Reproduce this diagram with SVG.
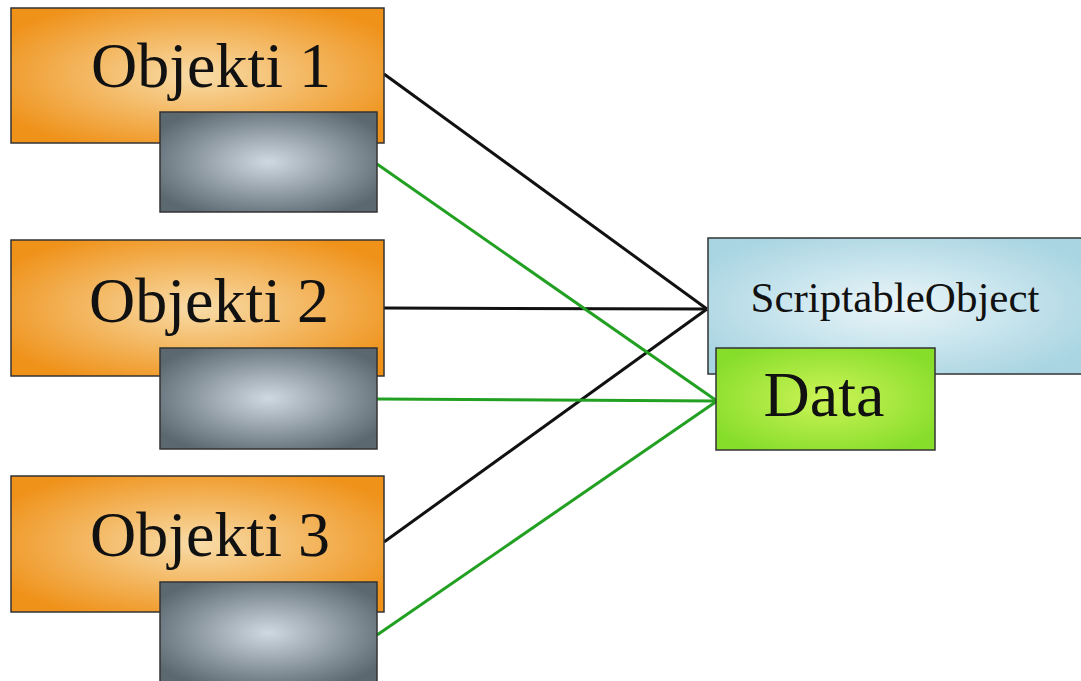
<svg xmlns="http://www.w3.org/2000/svg" width="1081" height="681" viewBox="0 0 1081 681">
<defs>
<radialGradient id="gOrange" cx="0.5" cy="0.5" r="0.6">
<stop offset="0" stop-color="#f8dca8"/>
<stop offset="1" stop-color="#ef921a"/>
</radialGradient>
<radialGradient id="gGrey" cx="0.5" cy="0.5" r="0.6">
<stop offset="0" stop-color="#cfd9e2"/>
<stop offset="1" stop-color="#5b6870"/>
</radialGradient>
<radialGradient id="gBlue" cx="0.5" cy="0.5" r="0.6">
<stop offset="0" stop-color="#eaf5f9"/>
<stop offset="1" stop-color="#a9d5e2"/>
</radialGradient>
<radialGradient id="gGreen" cx="0.5" cy="0.5" r="0.6">
<stop offset="0" stop-color="#cdf457"/>
<stop offset="1" stop-color="#86dd2a"/>
</radialGradient>
<style>
.box{stroke:#333;stroke-width:1.5}
.lbl{font-family:"Liberation Serif","DejaVu Serif",serif;fill:#111;text-anchor:middle}
.blk{stroke:#111;stroke-width:3;fill:none}
.grn{stroke:#22a022;stroke-width:3;fill:none}
</style>
</defs>
<rect width="1081" height="681" fill="#ffffff"/>
<g id="connectors">
<line class="blk" x1="384" y1="74" x2="707" y2="309"/>
<line class="blk" x1="384" y1="308" x2="707" y2="309"/>
<line class="blk" x1="384" y1="542" x2="707" y2="309"/>
<line class="grn" x1="377" y1="164" x2="717" y2="401"/>
<line class="grn" x1="377" y1="399" x2="717" y2="401"/>
<line class="grn" x1="377" y1="635" x2="717" y2="401"/>
</g>
<g id="objekti1">
<rect class="box" x="11" y="8" width="373" height="135" fill="url(#gOrange)"/>
<text class="lbl" x="211" y="87" font-size="64">Objekti 1</text>
<rect class="box" x="160" y="112" width="217" height="100" fill="url(#gGrey)"/>
</g>
<g id="objekti2">
<rect class="box" x="11" y="240" width="373" height="136" fill="url(#gOrange)"/>
<text class="lbl" x="209" y="322" font-size="64">Objekti 2</text>
<rect class="box" x="160" y="348" width="217" height="101" fill="url(#gGrey)"/>
</g>
<g id="objekti3">
<rect class="box" x="11" y="476" width="373" height="136" fill="url(#gOrange)"/>
<text class="lbl" x="210" y="556" font-size="64">Objekti 3</text>
<rect class="box" x="160" y="582" width="217" height="102" fill="url(#gGrey)"/>
</g>
<g id="scriptableobject">
<rect class="box" x="708" y="238" width="374" height="136" fill="url(#gBlue)"/>
<text class="lbl" x="895" y="312" font-size="43">ScriptableObject</text>
</g>
<g id="data">
<rect class="box" x="716" y="348" width="219" height="102" fill="url(#gGreen)"/>
<text class="lbl" x="824" y="416" font-size="64">Data</text>
</g>
</svg>
